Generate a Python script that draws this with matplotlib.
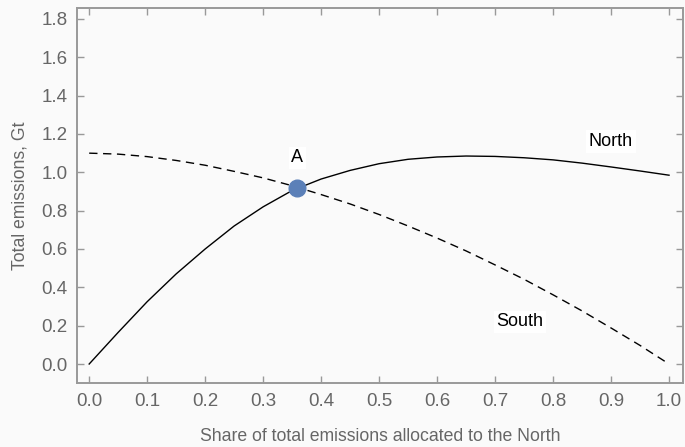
import matplotlib.pyplot as plt
import numpy as np

plt.rcParams["font.family"] = ["Liberation Sans", "DejaVu Sans"]

# share of total emissions allocated to the North
share = [0.00, 0.05, 0.10, 0.15, 0.20, 0.25, 0.30, 0.35, 0.40, 0.45, 0.50,
         0.55, 0.60, 0.65, 0.70, 0.75, 0.80, 0.85, 0.90, 0.95, 1.00]
north = [0.000, 0.165, 0.325, 0.470, 0.600, 0.720, 0.820, 0.905, 0.965, 1.010, 1.045,
         1.068, 1.080, 1.085, 1.083, 1.076, 1.065, 1.048, 1.028, 1.007, 0.985]
south = [1.100, 1.095, 1.082, 1.062, 1.037, 1.005, 0.971, 0.930, 0.884, 0.835, 0.780,
         0.720, 0.657, 0.590, 0.517, 0.442, 0.361, 0.277, 0.188, 0.097, 0.000]
point_a = (0.359, 0.917)

xticks = [0.0, 0.1, 0.2, 0.3, 0.4, 0.5, 0.6, 0.7, 0.8, 0.9, 1.0]
yticks = [0.0, 0.2, 0.4, 0.6, 0.8, 1.0, 1.2, 1.4, 1.6, 1.8]

bg = "#fafafa"
grey = "#999999"
label_grey = "#666666"

fig = plt.figure(figsize=(6.85, 4.47), dpi=100, facecolor=bg)
ax = fig.add_axes([0.1124, 0.1432, 0.8846, 0.8388], facecolor=bg)

ax.plot(share, north, color="black", lw=1.0)
ax.plot(share, south, color="black", lw=1.0, ls=(0, (6, 4)))
ax.plot(*point_a, "o", color="#5b80b8", markersize=12, zorder=5)

box = dict(facecolor="white", edgecolor="none", pad=2)
ax.text(0.359, 1.075, "A", ha="center", va="center", fontsize=13, bbox=box)
ax.text(0.90, 1.16, "North", ha="center", va="center", fontsize=13, bbox=box)
ax.text(0.743, 0.22, "South", ha="center", va="center", fontsize=13, bbox=box)

ax.set_xlim(-0.021, 1.024)
ax.set_ylim(-0.099, 1.857)
ax.set_xticks(xticks)
ax.set_yticks(yticks)
ax.set_xticklabels([f"{t:.1f}" for t in xticks])
ax.set_yticklabels([f"{t:.1f}" for t in yticks])

ax.tick_params(direction="in", length=5, width=1, color=grey,
               labelcolor=label_grey, labelsize=13.5, pad=7,
               top=True, right=True)
for sp in ax.spines.values():
    sp.set_color(grey)
    sp.set_linewidth(1.4)

ax.set_xlabel("Share of total emissions allocated to the North",
              color=label_grey, fontsize=12.7, labelpad=13)
ax.set_ylabel("Total emissions, Gt", color=label_grey, fontsize=12.7, labelpad=9)

fig.savefig("out.png", dpi=100, facecolor=bg)
